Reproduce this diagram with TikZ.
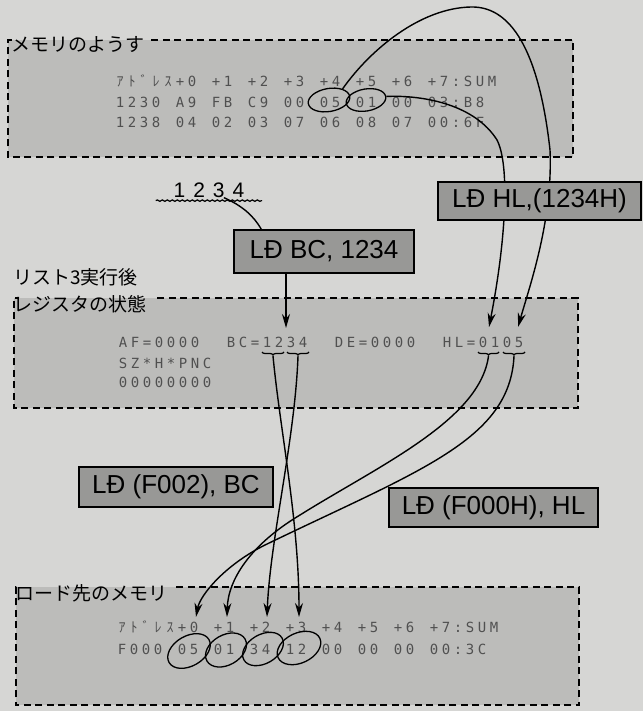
\documentclass[tikz,border=0pt]{standalone}
\usepackage{fontspec}
\usepackage{tikz}
\usetikzlibrary{arrows.meta, positioning, calc, shapes.geometric, decorations.pathreplacing, decorations.pathmorphing}
\newfontfamily\dotfont{DejaVu Sans Mono}
\newfontfamily\kanafont{Noto Sans CJK JP}
\newfontfamily\handfont{Liberation Sans}
\newlength\dotpitch \setlength\dotpitch{12pt}
\definecolor{paper}{RGB}{214,214,212}
\definecolor{panelgray}{RGB}{188,188,186}
\definecolor{taggray}{RGB}{152,152,150}
\definecolor{ink}{RGB}{80,80,80}

\ExplSyntaxOn
\cs_new_protected:Npn \__dot_cell:n #1
  {
    \makebox[\dotpitch][c]
      {
        \str_if_eq:nnF {#1} {~}
          {
            \str_if_eq:eeTF {#1} {\c_tilde_str}
              { }
              { \int_compare:nNnTF {`#1} > {"FF00} {\kanafont #1} {#1} }
          }
      }
  }
\NewDocumentCommand \dotline { m }
  { \str_map_inline:nn {#1} { \__dot_cell:n {##1} } }
\ExplSyntaxOff

\begin{document}
\begin{tikzpicture}[x=1pt, y=-1pt,
    panelbox/.style={fill=panelgray, draw=none, inner sep=0pt},
    frame/.style={line width=2pt, dash pattern=on 7pt off 4.5pt},
    boxtitle/.style={font=\kanafont\fontsize{19}{21}\selectfont, inner sep=1pt, anchor=west},
    dotrow/.style={font=\dotfont\fontsize{14}{16}\selectfont, text=ink, inner sep=0pt, anchor=west},
    tagbox/.style={draw, line width=1.4pt, fill=taggray, font=\handfont\fontsize{26}{28}\selectfont, inner sep=0pt},
    ring/.style={ellipse, draw, line width=1.3pt, inner sep=0pt},
    link/.style={line width=1.4pt},
    flow/.style={link, -{Stealth[length=14pt, width=8pt]}},
    wave/.style={line width=1.2pt, decorate, decoration={brace, mirror, amplitude=3pt}}
]
    \useasboundingbox (0,0) rectangle (643,711);
    \fill[paper] (0,0) rectangle (643,711);

    % memory
    \node[panelbox, minimum width=565pt, minimum height=117pt] (mem) at (290.5,98.5) {};
    \node[boxtitle] (memtitle) at (10,44) {メモリのようす};
    \draw[frame] ([xshift=6pt]memtitle.east |- mem.north) -- (mem.north east) -- (mem.south east)
        -- (mem.south west) -- (mem.north west) -- ++(4,0);
    \node[dotrow] (mrow0) at (114,81) {\dotline{ｱﾄﾞﾚｽ+0 +1 +2 +3 +4 +5 +6 +7:SUM}};
    \node[dotrow] (mrow1) at (114,102) {\dotline{1230 A9 FB C9 00 05 01 00 03:B8}};
    \node[dotrow] (mrow2) at (114,122) {\dotline{1238 04 02 03 07 06 08 07 00:6F}};
    \node[ring, minimum width=42pt, minimum height=23pt, rotate=10] (src05) at (329,100) {};
    \node[ring, minimum width=40pt, minimum height=22pt, rotate=10] (src01) at (366,100) {};

    % registers
    \node[panelbox, minimum width=564pt, minimum height=110pt] (reg) at (296,353) {};
    \node[boxtitle] (regtitle) at (12,304) {レジスタの状態};
    \node[boxtitle, above=7pt of regtitle.north west, anchor=south west] (listtitle) {リスト3実行後};
    \draw[frame] ([xshift=10pt]regtitle.east |- reg.north) -- (reg.north east) -- (reg.south east)
        -- (reg.south west) -- (reg.north west) -- ++(4,0);
    \node[dotrow] (rrow0) at (117,342) {\dotline{AF=0000~~BC=1234~~DE=0000~~HL=0105}};
    \node[dotrow] (rrow1) at (117,363) {\dotline{SZ*H*PNC}};
    \node[dotrow] (rrow2) at (117,382) {\dotline{00000000}};
    \draw[wave] (262,352) -- (284,352);
    \draw[wave] (287,352) -- (309,352);
    \draw[wave] (478,352) -- (499,352);
    \draw[wave] (503,352) -- (525,352);
    \coordinate (regB) at (273,356);
    \coordinate (regC) at (298,356);
    \coordinate (regH) at (488.5,356);
    \coordinate (regL) at (514,356);
    \coordinate (inBC) at (286,328);
    \coordinate (inH) at (489,327);
    \coordinate (inL) at (518,327);

    % load target
    \node[panelbox, minimum width=563pt, minimum height=118pt] (dst) at (297.5,646) {};
    \node[boxtitle] (dsttitle) at (14,593) {ロード先のメモリ};
    \draw[frame] ([xshift=8pt]dsttitle.east |- dst.north) -- (dst.north east) -- (dst.south east)
        -- (dst.south west) -- (dst.north west) -- ++(4,0);
    \node[dotrow] (drow0) at (116,627) {\dotline{ｱﾄﾞﾚｽ+0 +1 +2 +3 +4 +5 +6 +7:SUM}};
    \node[dotrow] (drow1) at (116,649) {\dotline{F000 05 01 34 12 00 00 00 00:3C}};
    \node[ring, minimum width=46pt, minimum height=30pt, rotate=30] (dst0) at (189,651) {};
    \node[ring, minimum width=44pt, minimum height=30pt, rotate=30] (dst1) at (226,650) {};
    \node[ring, minimum width=44pt, minimum height=29pt, rotate=30] (dst2) at (263,649) {};
    \node[ring, minimum width=46pt, minimum height=30pt, rotate=25] (dst3) at (299,648) {};
    \coordinate (to0) at (196,617);
    \coordinate (to1) at (227,617);
    \coordinate (to2) at (267,617);
    \coordinate (to3) at (299,617);

    % transfers
    \draw[flow] (src05.north east) .. controls (370,50) and (420,8) .. (471,7)
        .. controls (515,6) and (540,60) .. (550,150)
        .. controls (553,220) and (530,285) .. (inL);
    \draw[flow] (src01.east) .. controls (425,95) and (475,105) .. (497,140)
        .. controls (510,165) and (506,240) .. (inH);
    \draw[flow] (regB) .. controls (280,430) and (299,520) .. (to3);
    \draw[flow] (regC) .. controls (295,440) and (270,540) .. (to2);
    \draw[flow] (regH) .. controls (480,420) and (380,465) .. (300,515)
        .. controls (250,545) and (228,580) .. (to1);
    \draw[flow] (regL) .. controls (510,440) and (420,470) .. (265,545)
        .. controls (225,565) and (200,595) .. (to0);

    % instructions
    \node[font=\handfont\fontsize{21}{23}\selectfont, minimum width=106pt, inner sep=0pt] (imm) at (209,190)
        {1\kern8pt2\kern8pt3\kern8pt4};
    \draw[line width=1.2pt, decorate, decoration={snake, amplitude=0.7pt, segment length=5pt}]
        ([yshift=-3pt]imm.south west) -- ([yshift=-3pt]imm.south east);
    \node[tagbox, minimum width=180pt, minimum height=43pt] (ldbc) at (324,251.5) {LĐ BC, 1234};
    \draw[link] ($(imm.south)!0.28!(imm.south east)$) .. controls +(18,8) and +(-8,-14) .. ([xshift=28pt]ldbc.north west);
    \draw[flow] (ldbc.south -| inBC) -- (inBC);
    \node[tagbox, minimum width=203pt, minimum height=38pt] (ldhl) at (539.5,201) {LĐ HL,(1234H)};
    \node[tagbox, minimum width=194pt, minimum height=40pt] (stbc) at (176,487) {LĐ (F002), BC};
    \node[tagbox, minimum width=209pt, minimum height=39pt] (sthl) at (493.5,507.5) {LĐ (F000H), HL};
\end{tikzpicture}
\end{document}
